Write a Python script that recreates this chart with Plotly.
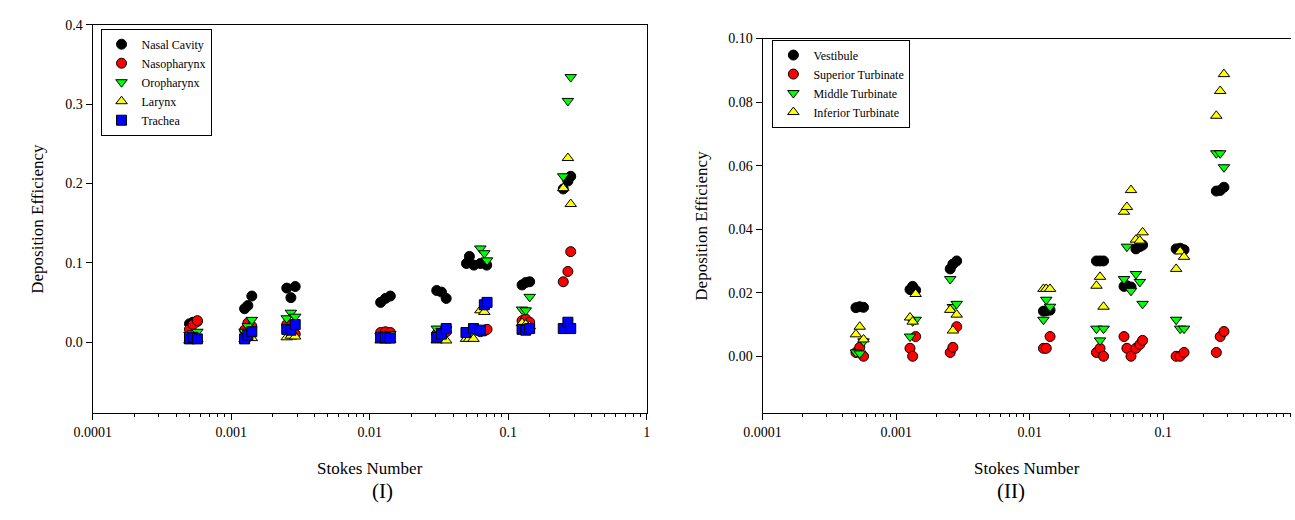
import plotly.graph_objects as go

# ---------------- Panel (I) data ----------------
nasal_x = [0.00050, 0.00053, 0.00057, 0.00125, 0.00132, 0.00141, 0.00252, 0.00270, 0.00290,
           0.0120, 0.0130, 0.0141, 0.0305, 0.0330, 0.0357, 0.0500, 0.0525, 0.0565, 0.0630, 0.0700,
           0.126, 0.134, 0.143, 0.250, 0.270, 0.283]
nasal_y = [0.023, 0.025, 0.026, 0.042, 0.046, 0.058, 0.068, 0.056, 0.070,
           0.050, 0.055, 0.058, 0.065, 0.063, 0.055, 0.099, 0.108, 0.097, 0.099, 0.097,
           0.072, 0.075, 0.076, 0.193, 0.203, 0.209]

naso_x = [0.00050, 0.00053, 0.00057, 0.00125, 0.00132, 0.00141, 0.00252, 0.00270, 0.00290,
          0.0120, 0.0130, 0.0141, 0.0305, 0.0330, 0.0357, 0.0630, 0.0673, 0.0704,
          0.126, 0.134, 0.143, 0.250, 0.270, 0.283]
naso_y = [0.016, 0.022, 0.027, 0.015, 0.024, 0.020, 0.022, 0.012, 0.010,
          0.012, 0.013, 0.012, 0.010, 0.012, 0.013, 0.013, 0.014, 0.016,
          0.027, 0.029, 0.025, 0.076, 0.089, 0.114]

oro_x = [0.00050, 0.00053, 0.00057, 0.00125, 0.00132, 0.00141, 0.00252, 0.00270, 0.00290,
         0.0120, 0.0130, 0.0141, 0.0305, 0.0330, 0.0357, 0.0525, 0.0630, 0.0673, 0.0704,
         0.126, 0.134, 0.143, 0.250, 0.270, 0.283]
oro_y = [0.009, 0.011, 0.013, 0.013, 0.020, 0.028, 0.030, 0.037, 0.032,
         0.008, 0.009, 0.010, 0.017, 0.014, 0.016, 0.008, 0.118, 0.112, 0.103,
         0.041, 0.040, 0.057, 0.209, 0.304, 0.334]

lar_x = [0.00050, 0.00053, 0.00057, 0.00125, 0.00132, 0.00141, 0.00252, 0.00270, 0.00290,
         0.0120, 0.0130, 0.0141, 0.0305, 0.0330, 0.0357, 0.0496, 0.0522, 0.0562, 0.0630, 0.0673,
         0.126, 0.134, 0.143, 0.250, 0.270, 0.283]
lar_y = [0.002, 0.003, 0.004, 0.004, 0.006, 0.005, 0.006, 0.008, 0.007,
         0.002, 0.002, 0.003, 0.002, 0.003, 0.002, 0.004, 0.004, 0.004, 0.040, 0.038,
         0.024, 0.022, 0.020, 0.194, 0.232, 0.174]

tra_x = [0.00050, 0.00053, 0.00057, 0.00125, 0.00132, 0.00141, 0.00252, 0.00270, 0.00290,
         0.0120, 0.0130, 0.0141, 0.0305, 0.0330, 0.0357, 0.0496, 0.0562, 0.0630, 0.0673, 0.0704,
         0.126, 0.134, 0.143, 0.250, 0.270, 0.283]
tra_y = [0.004, 0.006, 0.004, 0.004, 0.009, 0.013, 0.016, 0.015, 0.022,
         0.006, 0.006, 0.005, 0.006, 0.010, 0.017, 0.012, 0.017, 0.015, 0.047, 0.050,
         0.016, 0.015, 0.017, 0.017, 0.025, 0.017]

# ---------------- Panel (II) data ----------------
sub_x = [0.00050, 0.000534, 0.00057, 0.00127, 0.00133, 0.00140, 0.00254, 0.00266, 0.00284,
         0.01267, 0.0133, 0.0142, 0.0316, 0.0336, 0.0357,
         0.0508, 0.0534, 0.0573, 0.0624, 0.0667, 0.0700,
         0.1248, 0.1337, 0.1430, 0.2495, 0.2666, 0.2845]

vest_y = [0.0153, 0.0156, 0.0154, 0.0210, 0.0220, 0.0208, 0.0275, 0.0290, 0.0300,
          0.0142, 0.0143, 0.0145, 0.0300, 0.0300, 0.0300,
          0.0220, 0.0222, 0.0218, 0.0338, 0.0345, 0.0350,
          0.0338, 0.0340, 0.0335, 0.0520, 0.0522, 0.0532]
sup_y = [0.0012, 0.0028, 0.0000, 0.0025, 0.0000, 0.0062, 0.0012, 0.0028, 0.0093,
         0.0025, 0.0025, 0.0062, 0.0012, 0.0025, 0.0000,
         0.0062, 0.0025, 0.0000, 0.0025, 0.0037, 0.0050,
         0.0000, 0.0000, 0.0012, 0.0012, 0.0062, 0.0078]
mid_y = [0.0012, 0.0009, 0.0047, 0.0062, 0.0110, 0.0115, 0.0243, 0.0155, 0.0165,
         0.0115, 0.0178, 0.0156, 0.0087, 0.0050, 0.0087,
         0.0243, 0.0345, 0.0206, 0.0259, 0.0234, 0.0165,
         0.0115, 0.0087, 0.0087, 0.0639, 0.0639, 0.0595]
inf_y = [0.0069, 0.0093, 0.0053, 0.0122, 0.0109, 0.0196, 0.0146, 0.0081, 0.0131,
         0.0212, 0.0212, 0.0212, 0.0222, 0.0250, 0.0156,
         0.0455, 0.0470, 0.0523, 0.0367, 0.0364, 0.0390,
         0.0275, 0.0330, 0.0313, 0.0757, 0.0835, 0.0888]

x_tickvals = [0.0001, 0.001, 0.01, 0.1, 1]
x_ticktext = ["0.0001", "0.001", "0.01", "0.1", "1"]
y1_tickvals = [0.0, 0.1, 0.2, 0.3, 0.4]
y1_ticktext = ["0.0", "0.1", "0.2", "0.3", "0.4"]
y2_tickvals = [0.0, 0.02, 0.04, 0.06, 0.08, 0.10]
y2_ticktext = ["0.00", "0.02", "0.04", "0.06", "0.08", "0.10"]

FONT = "Liberation Serif"
W, H = 1295, 520

fig = go.Figure()

def add(x, y, name, symbol, color, xa, ya, legend):
    fig.add_trace(go.Scatter(
        x=x, y=y, mode="markers", name=name, xaxis=xa, yaxis=ya, legend=legend,
        marker=dict(symbol=symbol, color=color, size=10,
                    line=dict(color="black", width=1)),
    ))

add(nasal_x, nasal_y, "Nasal Cavity", "circle", "black", "x", "y", "legend")
add(naso_x, naso_y, "Nasopharynx", "circle", "#ff0000", "x", "y", "legend")
add(oro_x, oro_y, "Oropharynx", "triangle-down", "#00ff00", "x", "y", "legend")
add(lar_x, lar_y, "Larynx", "triangle-up", "#ffff00", "x", "y", "legend")
add(tra_x, tra_y, "Trachea", "square", "#0000ff", "x", "y", "legend")

add(sub_x, vest_y, "Vestibule", "circle", "black", "x2", "y2", "legend2")
add(sub_x, sup_y, "Superior Turbinate", "circle", "#ff0000", "x2", "y2", "legend2")
add(sub_x, mid_y, "Middle Turbinate", "triangle-down", "#00ff00", "x2", "y2", "legend2")
add(sub_x, inf_y, "Inferior Turbinate", "triangle-up", "#ffff00", "x2", "y2", "legend2")

def px(v):
    return v / W

def py(v):
    return 1 - v / H

xcommon = dict(type="log", tickvals=x_tickvals, ticktext=x_ticktext, ticks="outside",
               ticklen=6, tickcolor="black", showgrid=False, zeroline=False,
               showline=True, linecolor="black", linewidth=1, mirror=True,
               tickfont=dict(family=FONT, size=14, color="black"),
               minor=dict(ticks="outside", ticklen=3, tickcolor="black", dtick="D1", showgrid=False))
ycommon = dict(ticks="outside", ticklen=6, tickcolor="black", showgrid=False, zeroline=False,
               showline=True, linecolor="black", linewidth=1,
               tickfont=dict(family=FONT, size=14, color="black"))

fig.update_layout(
    width=W, height=H, margin=dict(l=0, r=0, t=0, b=0),
    paper_bgcolor="white", plot_bgcolor="white",
    font=dict(family=FONT, color="black"),
    xaxis=dict(**xcommon, domain=[px(75), px(639)], range=[-4, 0], anchor="y"),
    yaxis=dict(**ycommon, domain=[py(412), py(18)], range=[-0.09, 0.4], mirror=True,
               tickvals=y1_tickvals, ticktext=y1_ticktext, anchor="x"),
    xaxis2=dict(**xcommon, domain=[px(757), 1.0], range=[-4, -0.044], anchor="y2"),
    yaxis2=dict(**ycommon, domain=[py(412), py(32)], range=[-0.018, 0.10], mirror=False,
                tickvals=y2_tickvals, ticktext=y2_ticktext, anchor="x2"),
    legend=dict(x=px(83), y=py(22), xanchor="left", yanchor="top",
                bordercolor="black", borderwidth=1, bgcolor="white",
                font=dict(family=FONT, size=12, color="black"),
                tracegroupgap=0, itemwidth=30),
    legend2=dict(x=px(767), y=py(33), xanchor="left", yanchor="top",
                 bordercolor="black", borderwidth=1, bgcolor="white",
                 font=dict(family=FONT, size=12, color="black"),
                 tracegroupgap=0, itemwidth=30),
    showlegend=True,
)

ann = [
    dict(text="Deposition Efficiency", x=px(18), y=py(215), textangle=-90),
    dict(text="Deposition Efficiency", x=px(694), y=py(222), textangle=-90),
    dict(text="Stokes Number", x=px(357), y=py(468)),
    dict(text="Stokes Number", x=px(1026), y=py(468)),
]
for a in ann:
    fig.add_annotation(xref="paper", yref="paper", showarrow=False,
                       xanchor="center", yanchor="middle",
                       font=dict(family=FONT, size=17, color="black"), **a)
fig.add_annotation(xref="paper", yref="paper", showarrow=False, x=px(357), y=py(505),
                   text="(I)", font=dict(family=FONT, size=21, color="black"))
fig.add_annotation(xref="paper", yref="paper", showarrow=False, x=px(1026), y=py(505),
                   text="(II)", font=dict(family=FONT, size=21, color="black"))

fig.write_html("out.html")
